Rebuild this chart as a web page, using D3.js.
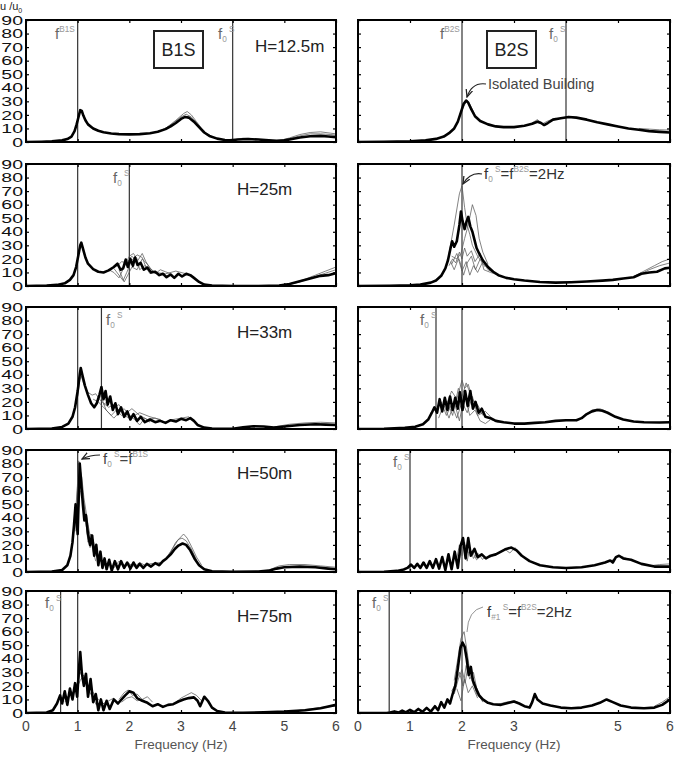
<!DOCTYPE html>
<html>
<head>
<meta charset="utf-8">
<style>
  body { margin: 0; background: #fff; }
  svg text { font-family: "Liberation Sans", Arial, sans-serif; }
  .domain { display: none; }
  .tick line { stroke: #000; stroke-width: 1.2; }
</style>
<script src="https://cdn.jsdelivr.net/npm/d3@7/dist/d3.min.js"></script>
</head>
<body>
<svg id="chart" width="677" height="759"></svg>
<script>
// ---- data (frequency Hz, amplitude) ----
var yTicks = [0, 10, 20, 30, 40, 50, 60, 70, 80, 90];
var xTicksLeft = [0, 1, 2, 3, 4, 5, 6];
var xTicksRight = [0, 1, 2, 3, 5, 6];
var heights = ["H=12.5m", "H=25m", "H=33m", "H=50m", "H=75m"];

// B1S, H=12.5m
var a1Main = [[0,0],[0.3,0.2],[0.5,0.5],[0.7,1.2],[0.8,2.2],[0.88,4],[0.94,8],[0.98,13],[1.02,19],[1.05,23.5],[1.08,23],[1.11,19.5],[1.15,16],[1.2,13],[1.3,10],[1.4,8.3],[1.5,7.2],[1.65,6.3],[1.8,5.8],[2.0,5.6],[2.2,5.8],[2.4,6.5],[2.55,7.5],[2.7,9.5],[2.8,11.5],[2.9,14],[3.0,17],[3.08,18.5],[3.15,18],[3.25,15],[3.35,11],[3.45,7],[3.55,4.5],[3.7,2.5],[3.85,1.5],[3.95,1.2],[4.1,1.8],[4.3,2.2],[4.5,1.8],[4.7,1.2],[4.85,0.8],[5.0,1.2],[5.15,2.2],[5.3,3.3],[5.5,4.2],[5.7,4.5],[5.85,4],[6,3.6]];
var a1Thin = [
  [[2.5,7],[2.7,10],[2.9,16],[3.05,21],[3.12,22.5],[3.2,20],[3.3,15],[3.4,10],[3.5,6],[3.65,3]],
  [[2.6,8],[2.8,12.5],[3.0,18.5],[3.1,20.5],[3.2,18.5],[3.35,12],[3.5,5]],
  [[4.9,1],[5.1,3],[5.3,5.5],[5.5,7],[5.7,7.5],[5.9,6.5],[6,6]],
  [[4.9,0.8],[5.1,2.5],[5.3,4.5],[5.5,6],[5.7,6],[5.9,5.5],[6,5]],
  [[4.0,1.5],[4.2,2.8],[4.4,2.5],[4.6,1.5]]
];
var a1Lines = [1, 4];

// B2S, H=12.5m
var a2Main = [[0,0],[0.5,0.2],[1.0,0.6],[1.3,1.2],[1.5,2.3],[1.65,4],[1.75,6.5],[1.85,10],[1.92,15],[1.98,22],[2.03,28],[2.08,30.5],[2.12,29],[2.18,24],[2.25,19],[2.35,15.5],[2.5,13],[2.65,11.5],[2.8,11],[3.0,11],[3.2,12],[3.35,13.5],[3.45,15],[3.52,14],[3.58,12.5],[3.65,14],[3.75,16.5],[3.9,17.5],[4.05,18.5],[4.2,18],[4.4,16.5],[4.6,14.5],[4.8,13],[5.0,11.5],[5.2,10],[5.4,9],[5.6,8],[5.8,7.5],[6,7]];
var a2Thin = [
  [[3.3,13],[3.45,16.5],[3.55,13.5],[3.65,15.5],[3.8,17.5]],
  [[5.4,10],[5.6,9.5],[5.8,9],[6,8.8]],
  [[1.95,19],[2.03,26],[2.1,31],[2.15,28],[2.25,20]]
];
var a2Lines = [2, 4];

// B1S, H=25m
var b1Main = [[0,0],[0.4,0.3],[0.6,0.8],[0.75,2],[0.85,4.5],[0.92,8],[0.97,14],[1.01,22],[1.05,30],[1.07,32],[1.1,28],[1.15,21],[1.2,16.5],[1.3,12.5],[1.4,10.5],[1.5,10],[1.6,11.5],[1.7,14],[1.77,16.5],[1.83,12],[1.88,13],[1.93,19.5],[1.97,14],[2.02,20],[2.07,15],[2.11,21],[2.16,15.5],[2.22,17],[2.28,12],[2.35,13.5],[2.42,10],[2.5,10.5],[2.58,8],[2.65,9],[2.72,6.5],[2.8,8.5],[2.87,6],[2.95,9],[3.02,7],[3.1,9],[3.18,8],[3.25,6],[3.35,3],[3.45,1],[3.6,0.3],[4.0,0],[4.5,0],[4.9,0.3],[5.1,1.5],[5.3,3.5],[5.5,5.5],[5.7,7.5],[5.85,8],[6,9.5]];
var b1Thin = [
  [[1.6,12],[1.7,10],[1.8,6],[1.9,14],[2.0,22],[2.08,24],[2.15,20],[2.2,12],[2.3,15],[2.4,13],[2.5,9],[2.6,12],[2.7,10.5],[2.8,9]],
  [[1.7,13],[1.8,8],[1.88,4],[1.95,10],[2.05,19],[2.15,23],[2.25,21],[2.32,14],[2.4,9],[2.5,11],[2.6,8]],
  [[1.75,14],[1.85,18],[1.95,17],[2.05,22],[2.15,18],[2.25,24],[2.32,18],[2.4,13],[2.5,10],[2.7,9],[2.9,11],[3.0,10],[3.1,9]],
  [[1.8,12],[1.9,3],[1.97,8],[2.05,14],[2.15,12],[2.25,20],[2.35,16],[2.45,11]],
  [[5.0,0.5],[5.2,2.5],[5.4,5],[5.6,8],[5.8,11],[6,14]],
  [[5.0,0.3],[5.3,3],[5.6,7],[5.8,9.5],[6,12]]
];
var b1Lines = [1, 2];

// B2S, H=25m
var b2Main = [[0,0],[0.6,0.2],[1.0,0.6],[1.2,1],[1.4,2.5],[1.5,4],[1.6,7.5],[1.68,13],[1.73,19],[1.78,28],[1.81,33],[1.85,29],[1.9,33],[1.95,45],[1.98,55],[2.01,48],[2.05,42],[2.09,48],[2.12,51],[2.16,44],[2.2,40],[2.24,34],[2.28,28],[2.33,24],[2.4,19],[2.5,14],[2.6,10.5],[2.7,8],[2.85,6],[3.0,5],[3.2,4],[3.5,3],[3.8,2.5],[4.1,2.8],[4.4,3.3],[4.7,4],[4.9,4.5],[5.1,5.5],[5.3,6.5],[5.45,9],[5.6,10],[5.75,10.5],[5.9,13],[6,13.5]];
var b2Thin = [
  [[1.75,24],[1.85,45],[1.95,68],[2.0,74],[2.05,58],[2.1,45],[2.15,38],[2.2,30],[2.3,22],[2.45,14]],
  [[1.8,22],[1.9,20],[1.98,24],[2.05,35],[2.12,45],[2.2,60],[2.27,52],[2.33,35],[2.4,25],[2.5,16]],
  [[1.75,15],[1.82,20],[1.88,17],[1.95,25],[2.0,20],[2.05,28],[2.1,22],[2.18,26],[2.25,18],[2.35,24],[2.42,12],[2.55,10],[2.7,8]],
  [[1.78,18],[1.85,12],[1.93,20],[2.0,11],[2.08,18],[2.15,8],[2.22,15],[2.3,10],[2.4,18],[2.5,12],[2.6,10]],
  [[1.8,16],[1.9,24],[1.96,18],[2.03,8],[2.1,17],[2.18,22],[2.26,12],[2.35,20],[2.45,16],[2.55,11]],
  [[5.3,7],[5.5,11],[5.7,15],[5.85,18],[6,20]],
  [[5.4,8],[5.6,12],[5.8,15],[6,17]]
];
var b2Lines = [2];

// B1S, H=33m
var c1Main = [[0,0],[0.5,0.4],[0.7,1.5],[0.82,4],[0.9,9],[0.95,16],[1.0,28],[1.04,40],[1.06,45],[1.09,40],[1.14,32],[1.2,25],[1.26,19],[1.32,16],[1.37,19],[1.42,25],[1.46,31],[1.5,22],[1.54,28],[1.58,18],[1.63,24],[1.68,14],[1.73,19],[1.78,11],[1.84,16],[1.9,9],[1.96,13],[2.02,7],[2.08,11],[2.15,6],[2.22,9],[2.3,5],[2.4,7],[2.5,5],[2.6,6],[2.7,4.5],[2.8,6.5],[2.9,5.5],[3.0,7.5],[3.1,6.5],[3.18,8],[3.25,6],[3.32,3],[3.45,1],[3.6,0.3],[4.0,0.2],[4.2,1.2],[4.4,2],[4.6,1.8],[4.8,1],[5.0,1.8],[5.3,3],[5.6,3.5],[5.8,3.2],[6,3]];
var c1Thin = [
  [[1.0,24],[1.04,36],[1.07,39],[1.12,33],[1.2,27],[1.28,25],[1.35,26],[1.42,22],[1.5,19],[1.6,16],[1.7,18],[1.8,14],[1.9,10],[2.0,8],[2.1,10]],
  [[1.3,22],[1.4,20],[1.5,16],[1.6,12],[1.7,8],[1.8,12],[1.9,15],[2.0,10],[2.1,7],[2.2,3],[2.3,8],[2.4,5]],
  [[1.45,24],[1.55,14],[1.65,10],[1.75,14],[1.85,10],[1.95,12],[2.05,15],[2.2,10],[2.35,7],[2.5,8],[2.7,5],[2.85,7],[3.0,8],[3.15,9],[3.3,4]],
  [[1.5,18],[1.6,21],[1.7,16],[1.8,18],[1.9,12],[2.05,9],[2.2,12],[2.4,9],[2.6,7]],
  [[4.8,1.5],[5.1,3.5],[5.4,4.5],[5.7,5],[6,4.5]]
];
var c1Lines = [1, 1.46];

// B2S, H=33m
var c2Main = [[0,0],[0.5,0.2],[0.9,0.8],[1.1,1.6],[1.25,3.5],[1.35,7],[1.42,12],[1.47,16],[1.52,12],[1.57,22],[1.62,13],[1.67,23],[1.72,14],[1.77,24],[1.82,14],[1.87,23],[1.92,15],[1.96,27],[2.01,14],[2.06,28],[2.11,17],[2.16,28],[2.21,15],[2.26,20],[2.32,12],[2.38,15],[2.45,9],[2.55,8],[2.65,6],[2.8,5],[3.0,4],[3.2,4],[3.4,4.5],[3.6,5],[3.8,6],[4.0,6.5],[4.2,6.5],[4.3,8],[4.4,11],[4.5,13],[4.6,14],[4.7,13.5],[4.8,12],[4.95,9],[5.1,7],[5.3,5.5],[5.5,5],[5.8,4.8],[6,5]];
var c2Thin = [
  [[1.7,18],[1.8,28],[1.9,22],[2.0,36],[2.05,30],[2.12,33],[2.2,22],[2.3,18],[2.4,10]],
  [[1.5,14],[1.6,20],[1.7,10],[1.8,18],[1.9,8],[2.0,20],[2.1,12],[2.2,24],[2.3,10],[2.45,13],[2.55,9]],
  [[1.55,8],[1.65,18],[1.75,8],[1.85,20],[1.95,6],[2.05,25],[2.15,10],[2.25,14],[2.35,6],[2.45,4],[2.55,7],[2.7,5]],
  [[1.6,16],[1.72,20],[1.82,10],[1.93,30],[2.0,24],[2.08,34],[2.18,24],[2.28,16],[2.38,11]],
  [[4.2,6],[4.35,10],[4.5,14],[4.65,15],[4.8,12.5]]
];
var c2Lines = [1.5, 2];

// B1S, H=50m
var d1Main = [[0,0],[0.5,0.3],[0.7,1.5],[0.8,5],[0.86,12],[0.9,22],[0.93,35],[0.96,50],[0.98,38],[1.0,28],[1.02,55],[1.04,80],[1.07,65],[1.1,50],[1.13,38],[1.16,42],[1.2,28],[1.24,20],[1.28,27],[1.32,12],[1.36,20],[1.4,5],[1.44,15],[1.48,3],[1.52,10],[1.56,2],[1.61,9],[1.66,1],[1.72,8],[1.78,2],[1.84,8],[1.9,3],[1.96,7],[2.02,2.5],[2.08,7],[2.14,3],[2.2,6],[2.27,3],[2.34,6],[2.42,4],[2.5,6.5],[2.58,5],[2.65,8],[2.72,10],[2.8,13],[2.88,17],[2.95,19.5],[3.03,21],[3.1,20],[3.18,16],[3.26,10],[3.35,5],[3.45,2],[3.6,0.5],[4.0,0.1],[4.5,0.3],[4.7,1],[4.85,2.5],[5.0,3.5],[5.3,4],[5.6,3.5],[5.85,2.5],[6,2]];
var d1Thin = [
  [[0.9,20],[0.95,40],[0.99,60],[1.02,82],[1.05,75],[1.08,70],[1.12,55],[1.16,45],[1.2,35],[1.25,25],[1.3,15],[1.35,8]],
  [[0.95,30],[1.0,65],[1.04,78],[1.08,60],[1.13,48],[1.18,30],[1.24,18],[1.3,24],[1.36,12],[1.42,8]],
  [[1.0,40],[1.05,60],[1.1,58],[1.15,40],[1.2,22],[1.25,28],[1.32,16],[1.4,11],[1.5,6]],
  [[1.5,5],[1.6,7],[1.7,3],[1.8,8],[1.9,5],[2.0,6],[2.1,4],[2.2,7],[2.3,5],[2.4,6],[2.6,7]],
  [[2.7,10],[2.8,15],[2.9,22],[3.0,26],[3.05,28],[3.12,25],[3.2,19],[3.3,11],[3.4,5]],
  [[2.75,12],[2.85,18],[2.95,24],[3.02,25],[3.1,23],[3.2,17],[3.3,9]],
  [[4.7,1.5],[4.9,4.5],[5.1,5.5],[5.4,5.5],[5.7,4.5],[6,3.5]]
];
var d1Lines = [1];

// B2S, H=50m
var d2Main = [[0,0],[0.5,0.2],[0.75,0.8],[0.88,1.8],[0.95,3],[1.02,5.5],[1.08,3],[1.14,6],[1.2,3],[1.26,7],[1.32,3],[1.38,8],[1.44,3],[1.5,9.5],[1.56,2.5],[1.62,11],[1.68,1.5],[1.74,13],[1.8,2],[1.86,15],[1.92,3],[1.97,19],[2.02,25],[2.07,10],[2.12,25],[2.17,12],[2.24,17],[2.3,11],[2.38,13],[2.46,10],[2.55,12],[2.65,13],[2.75,15],[2.85,17],[2.95,18],[3.05,16],[3.15,12],[3.3,8],[3.5,5],[3.75,3.5],[4.0,3],[4.3,3.5],[4.55,5],[4.75,7],[4.85,8.5],[4.9,7],[4.96,11],[5.02,12],[5.1,10],[5.25,9],[5.45,6],[5.7,4],[6,4]];
var d2Thin = [
  [[1.9,10],[1.95,20],[2.0,12],[2.05,22],[2.1,8],[2.15,18],[2.22,10],[2.3,14],[2.4,9]],
  [[1.85,12],[1.93,6],[2.0,18],[2.06,20],[2.12,14],[2.2,15],[2.28,9],[2.36,12]],
  [[2.4,10],[2.55,11],[2.7,14],[2.82,17],[2.92,14],[3.02,18],[3.12,13],[3.25,9]],
  [[4.7,6],[4.9,9],[5.0,12],[5.1,11],[5.3,8],[5.5,5.5]],
  [[5.6,4.5],[5.8,5.5],[6,6]]
];
var d2Lines = [1, 2];

// B1S, H=75m
var e1Main = [[0,0],[0.4,0.3],[0.52,2],[0.6,7],[0.66,13],[0.7,7],[0.75,16],[0.8,6],[0.85,18],[0.9,10],[0.95,22],[0.99,12],[1.03,35],[1.05,45],[1.08,30],[1.12,20],[1.16,29],[1.2,12],[1.25,25],[1.3,8],[1.35,14],[1.4,2],[1.45,10],[1.5,2],[1.56,9],[1.62,3],[1.7,10],[1.78,7],[1.85,10],[1.92,13],[2.0,16],[2.08,15],[2.15,11],[2.25,9],[2.35,7.5],[2.45,5],[2.55,6.5],[2.65,4.5],[2.75,6],[2.85,6.5],[2.95,8.5],[3.05,10],[3.15,11],[3.25,11.5],[3.32,9],[3.37,5],[3.45,12],[3.52,9],[3.6,4],[3.7,1.5],[3.85,0.4],[4.2,0.2],[4.6,0.5],[5.0,1],[5.4,2],[5.7,3.5],[6,6]];
var e1Thin = [
  [[0.7,10],[0.8,12],[0.9,15],[1.0,22],[1.05,30],[1.1,26],[1.18,22],[1.25,18],[1.32,14],[1.4,10],[1.5,7],[1.6,9],[1.7,11]],
  [[0.75,8],[0.85,13],[0.95,16],[1.05,24],[1.12,28],[1.2,18],[1.28,12],[1.36,6],[1.45,8],[1.55,6]],
  [[1.8,10],[1.9,15],[1.98,17],[2.06,13],[2.15,14],[2.25,10],[2.35,12],[2.45,8]],
  [[1.85,8],[1.95,11],[2.05,12],[2.15,9],[2.25,10],[2.4,6]],
  [[2.9,8],[3.0,11],[3.1,13],[3.2,15],[3.3,13],[3.4,9]],
  [[5.2,1.5],[5.5,3],[5.8,4.5],[6,5]]
];
var e1Lines = [0.67, 1];

// B2S, H=75m
var e2Main = [[0,0],[0.55,0],[0.62,0.3],[0.7,1.2],[0.78,0.3],[0.85,1.8],[0.92,0.4],[1.0,2.3],[1.08,0.6],[1.16,3],[1.24,0.8],[1.32,3.8],[1.4,1],[1.48,5],[1.54,2],[1.6,8],[1.66,4],[1.72,10],[1.77,7],[1.82,14],[1.87,20],[1.92,33],[1.97,48],[2.01,52],[2.05,49],[2.09,40],[2.13,28],[2.17,34],[2.21,24],[2.27,18],[2.33,13],[2.4,10],[2.5,7.5],[2.6,6.5],[2.75,6],[2.9,7.5],[3.0,8.5],[3.1,7],[3.2,5],[3.3,4],[3.35,8],[3.4,14],[3.45,10],[3.55,7],[3.7,5.5],[3.9,4],[4.1,3.5],[4.3,4],[4.5,5.5],[4.65,7.5],[4.78,10],[4.9,8],[5.05,5.5],[5.25,4],[5.5,3.5],[5.7,4],[5.85,6],[6,10]];
var e2Thin = [
  [[1.85,24],[1.92,40],[1.98,55],[2.04,60],[2.1,45],[2.15,30],[2.22,20]],
  [[1.8,16],[1.88,22],[1.95,30],[2.02,20],[2.08,35],[2.15,25],[2.22,30],[2.3,15],[2.4,8]],
  [[1.85,14],[1.93,25],[2.0,32],[2.06,22],[2.12,36],[2.2,26],[2.28,14],[2.38,10]],
  [[1.9,18],[1.98,9],[2.05,25],[2.12,15],[2.2,20],[2.3,11]],
  [[2.7,6.5],[2.85,8],[3.0,9],[3.1,7.5]],
  [[5.7,5],[5.85,8],[6,12]]
];
var e2Lines = [0.6, 2];

// ---- layout ----
var svg = d3.select("#chart");
var rowTop = [20, 164, 307, 450, 591];
var panelH = 122;
var xs = [
  d3.scaleLinear().domain([0, 6]).range([26, 336]),
  d3.scaleLinear().domain([0, 6]).range([358, 670])
];

var panels = [
  {row: 0, col: 0, main: a1Main, thin: a1Thin, lines: a1Lines},
  {row: 0, col: 1, main: a2Main, thin: a2Thin, lines: a2Lines},
  {row: 1, col: 0, main: b1Main, thin: b1Thin, lines: b1Lines},
  {row: 1, col: 1, main: b2Main, thin: b2Thin, lines: b2Lines},
  {row: 2, col: 0, main: c1Main, thin: c1Thin, lines: c1Lines},
  {row: 2, col: 1, main: c2Main, thin: c2Thin, lines: c2Lines},
  {row: 3, col: 0, main: d1Main, thin: d1Thin, lines: d1Lines},
  {row: 3, col: 1, main: d2Main, thin: d2Thin, lines: d2Lines},
  {row: 4, col: 0, main: e1Main, thin: e1Thin, lines: e1Lines},
  {row: 4, col: 1, main: e2Main, thin: e2Thin, lines: e2Lines}
];

var defs = svg.append("defs");
defs.append("marker").attr("id", "arr").attr("viewBox", "0 0 10 10")
  .attr("refX", 9).attr("refY", 5).attr("markerWidth", 7).attr("markerHeight", 7)
  .attr("orient", "auto-start-reverse")
  .append("path").attr("d", "M0,1 L9,5 L0,9").attr("fill", "none").attr("stroke", "#222").attr("stroke-width", 1.5);

panels.forEach(function(p, i) {
  var x = xs[p.col];
  var top = rowTop[p.row];
  var y = d3.scaleLinear().domain([0, 90]).range([top + panelH, top]);
  var g = svg.append("g");
  defs.append("clipPath").attr("id", "clip" + i)
    .append("rect").attr("x", x(0)).attr("y", top).attr("width", x(6) - x(0)).attr("height", panelH);

  var line = d3.line().x(function(d) { return x(d[0]); }).y(function(d) { return y(d[1]); });
  var plot = g.append("g").attr("clip-path", "url(#clip" + i + ")");

  plot.selectAll("line.fl").data(p.lines).enter().append("line")
    .attr("x1", function(d) { return x(d); }).attr("x2", function(d) { return x(d); })
    .attr("y1", top).attr("y2", top + panelH)
    .attr("stroke", "#333").attr("stroke-width", 1.2);

  plot.selectAll("path.thin").data(p.thin).enter().append("path")
    .attr("d", line).attr("fill", "none").attr("stroke", "#5a5a5a").attr("stroke-width", 0.75);

  plot.append("path").datum(p.main).attr("d", line)
    .attr("fill", "none").attr("stroke", "#000").attr("stroke-width", 2.6)
    .attr("stroke-linejoin", "round");

  // ticks, inward
  g.append("g").attr("transform", "translate(" + x(0) + ",0)")
    .call(d3.axisLeft(y).tickValues(yTicks).tickSize(-3).tickFormat(""));
  g.append("g").attr("transform", "translate(" + x(6) + ",0)")
    .call(d3.axisRight(y).tickValues(yTicks).tickSize(-3).tickFormat(""));
  g.append("g").attr("transform", "translate(0," + top + ")")
    .call(d3.axisTop(x).tickValues(xTicksLeft).tickSize(-3).tickFormat(""));
  g.append("g").attr("transform", "translate(0," + (top + panelH) + ")")
    .call(d3.axisBottom(x).tickValues(xTicksLeft).tickSize(-3).tickFormat(""));

  g.append("rect").attr("x", x(0)).attr("y", top).attr("width", x(6) - x(0)).attr("height", panelH)
    .attr("fill", "none").attr("stroke", "#000").attr("stroke-width", 2);

  if (p.col == 0) {
    g.selectAll("text.yl").data(yTicks).enter().append("text")
      .attr("transform", function(d) { return "translate(23," + y(d) + ") scale(1.5,1)"; })
      .attr("text-anchor", "end").attr("dy", "0.36em")
      .attr("font-size", 13).attr("fill", "#111")
      .text(function(d) { return d; });
    g.append("text").attr("x", p.row == 0 ? 255 : 237).attr("y", [52, 195, 338, 479, 622][p.row])
      .attr("font-size", 17).attr("fill", "#222").text(heights[p.row]);
  }

  if (p.row == 4) {
    var ticks = p.col == 0 ? xTicksLeft : xTicksRight;
    g.selectAll("text.xl").data(ticks).enter().append("text")
      .attr("x", function(d) { return x(d); }).attr("y", 731)
      .attr("text-anchor", "middle").attr("font-size", 14).attr("fill", "#444")
      .text(function(d) { return d; });
    g.append("text").attr("x", (x(0) + x(6)) / 2).attr("y", 749)
      .attr("text-anchor", "middle").attr("font-size", 13.5).attr("fill", "#555")
      .text("Frequency (Hz)");
  }
});

// ---- annotations ----
function fLabel(px, py, segs, size, color) {
  var t = svg.append("text").attr("x", px).attr("y", py).attr("font-size", size).attr("fill", color);
  var cur = 0;
  segs.forEach(function(s) {
    var target = s[1] == "sub" ? 3 : (s[1] == "sup" ? -7 : 0);
    t.append("tspan").attr("dy", target - cur)
      .attr("font-size", s[1] == "n" ? size : size * 0.55)
      .attr("fill", s[1] == "n" ? color : "#999")
      .text(s[0]);
    cur = target;
  });
}
var f0 = [["f", "n"], ["0", "sub"], [" S", "sup"]];

fLabel(55, 39, [["f", "n"], ["B1S", "sup"]], 15, "#666");
fLabel(218, 39, f0, 15, "#666");
fLabel(440, 39, [["f", "n"], ["B2S", "sup"]], 15, "#666");
fLabel(549, 39, f0, 15, "#666");
fLabel(113, 183, f0, 15, "#666");
fLabel(106, 325, f0, 15, "#666");
fLabel(420, 325, f0, 15, "#666");
fLabel(393, 467, f0, 15, "#666");
fLabel(45, 608, f0, 15, "#666");
fLabel(372, 608, f0, 15, "#666");

fLabel(484, 179, [["f", "n"], ["0", "sub"], [" S", "sup"], ["=f", "n"], ["B2S", "sup"], ["=2Hz", "n"]], 15, "#333");
fLabel(103, 464, [["f", "n"], ["0", "sub"], [" S", "sup"], ["=f", "n"], ["B1S", "sup"]], 15, "#444");
fLabel(487, 617, [["f", "n"], ["#1", "sub"], [" S", "sup"], ["=f", "n"], ["B2S", "sup"], ["=2Hz", "n"]], 15, "#333");

// boxes
[[154, 31, "B1S"], [487, 31, "B2S"]].forEach(function(b) {
  svg.append("rect").attr("x", b[0]).attr("y", b[1]).attr("width", 49).attr("height", 37)
    .attr("fill", "none").attr("stroke", "#222").attr("stroke-width", 2);
  svg.append("text").attr("x", b[0] + 24.5).attr("y", b[1] + 25).attr("text-anchor", "middle")
    .attr("font-size", 18).attr("fill", "#222").text(b[2]);
});

svg.append("text").attr("x", 488).attr("y", 89).attr("font-size", 14.5).attr("fill", "#444")
  .text("Isolated Building");

// arrows
svg.append("path").attr("d", "M486,84 Q472,82 467,97").attr("fill", "none")
  .attr("stroke", "#222").attr("stroke-width", 1.2).attr("marker-end", "url(#arr)");
svg.append("path").attr("d", "M482,174 Q470,172 463,184").attr("fill", "none")
  .attr("stroke", "#222").attr("stroke-width", 1.2).attr("marker-end", "url(#arr)");
svg.append("path").attr("d", "M100,455 Q90,455 82,459").attr("fill", "none")
  .attr("stroke", "#222").attr("stroke-width", 1.2).attr("marker-end", "url(#arr)");
svg.append("path").attr("d", "M483,607 Q468,610 467,632").attr("fill", "none")
  .attr("stroke", "#777").attr("stroke-width", 0.8);

// axis title
var yt = svg.append("text").attr("x", 0).attr("y", 10).attr("font-size", 11).attr("fill", "#222");
yt.append("tspan").text("u /u");
yt.append("tspan").attr("dy", 3).attr("font-size", 7).text("0");
</script>
</body>
</html>
